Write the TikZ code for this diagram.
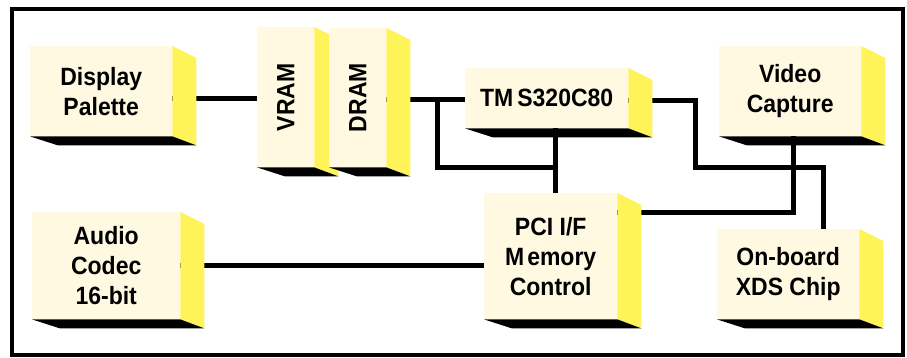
\documentclass[tikz,border=0pt]{standalone}
\usepackage{fontspec}
\setmainfont{Liberation Sans}[FakeStretch=0.92]
\usetikzlibrary{calc}
\pgfdeclarelayer{background}
\pgfsetlayers{background,main}
\definecolor{cream}{HTML}{FFF9E1}
\definecolor{sideyel}{HTML}{FFF35A}
\tikzset{
  blk/.style={fill=cream, inner sep=0pt, anchor=north west, align=center,
    font=\bfseries\fontsize{25}{30}\selectfont},
  wire/.style={line width=5pt},
  frame/.style={line width=4pt},
}
\newcommand\blockdeco[1]{%
  \fill[sideyel] (#1.north east) -- ++(24pt,-12pt) -- ([xshift=24pt,yshift=-9pt]#1.south east) -- (#1.south east) -- cycle;
  \fill[black] (#1.south west) -- ++(28pt,-9pt) -- ([xshift=24pt,yshift=-9pt]#1.south east) -- (#1.south east) -- cycle;}
\begin{document}
\begin{tikzpicture}[x=1pt,y=-1pt]
\useasboundingbox (0,0) rectangle (907,358);
\draw[frame] (12,9) rectangle (903,355);

\node[blk, minimum width=142pt, minimum height=90pt] (dp) at (30,46) {Display\\Palette};
\blockdeco{dp}
\node[blk, minimum width=57pt, minimum height=140pt] (vram) at (257,27) {\rotatebox{90}{VRAM}};
\blockdeco{vram}
\node[blk, minimum width=57pt, minimum height=139pt] (dram) at (329,28) {\rotatebox{90}{DRAM}};
\blockdeco{dram}
\node[blk, minimum width=163pt, minimum height=60pt] (tms) at (465,68) {TM\kern4pt S320C80};
\blockdeco{tms}
\node[blk, minimum width=142pt, minimum height=90pt] (vc) at (719,46) {Video\\Capture};
\blockdeco{vc}
\node[blk, minimum width=148pt, minimum height=107pt] (ac) at (32,212) {Audio\\Codec\\16-bit};
\blockdeco{ac}
\node[blk, minimum width=133pt, minimum height=126pt] (pci) at (484,193) {PCI I/F\\M\kern3pt emory\\Control};
\blockdeco{pci}
\node[blk, minimum width=142pt, minimum height=90pt] (xds) at (717,229) {On-board\\XDS Chip};
\blockdeco{xds}

\coordinate (j) at (437,99);
\coordinate (tpb) at (555,168);
\coordinate (r1) at (695,168);
\coordinate (r2) at (823,168);
\coordinate (v1) at (793,212);
\begin{pgfonlayer}{background}
  \draw[wire] ([yshift=-7pt]dp.east) -- ([yshift=-7pt]dp.east -| vram.west);
  \draw[wire] ([yshift=-1.5pt]dram.east) -- ([yshift=-1.5pt]dram.east -| tms.west);
  \draw[wire] (j) |- (tpb);
  \draw[wire] (tms.south -| tpb) -- (pci.north -| tpb);
  \draw[wire] ([yshift=-2pt]tms.east) -| (r1) -| (xds.north -| r2);
  \draw[wire] (vc.south -| v1) |- (pci.east |- v1);
  \draw[wire] (ac.east) -- (ac.east -| pci.west);
\end{pgfonlayer}
\end{tikzpicture}
\end{document}
